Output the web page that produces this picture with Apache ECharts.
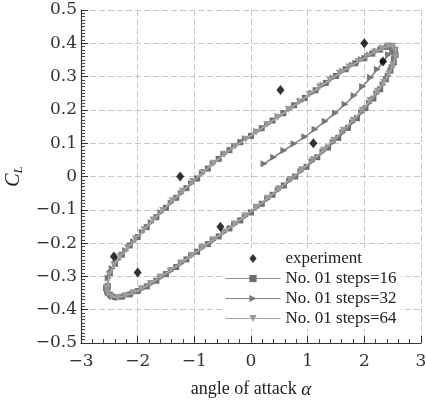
<!DOCTYPE html>
<html>
<head>
<meta charset="utf-8">
<script src="https://cdn.jsdelivr.net/npm/echarts@6/dist/echarts.min.js"></script>
<style>
  html, body { margin: 0; padding: 0; background: #fff; }
  #chart { width: 426px; height: 401px; }
</style>
</head>
<body>
<div id="chart"></div>
<script>
// measured lift coefficient
var experiment = [
  [2.0, 0.40], [2.33, 0.345], [0.52, 0.26], [1.10, 0.10],
  [-1.25, 0.0], [-0.54, -0.151], [-2.42, -0.24], [-2.0, -0.288]
];

// steps=16 : one loop, upper branch then lower branch
var steps16 = [
  [-2.53, -0.33], [-2.49, -0.29], [-2.40, -0.262], [-2.28, -0.235], [-2.14, -0.207],
  [-2.0, -0.182], [-1.84, -0.152], [-1.67, -0.122], [-1.50, -0.094], [-1.32, -0.064],
  [-1.14, -0.035], [-0.95, -0.006], [-0.76, 0.024], [-0.57, 0.053], [-0.38, 0.079],
  [-0.19, 0.103], [0.0, 0.122], [0.19, 0.145], [0.38, 0.168], [0.57, 0.19],
  [0.76, 0.214], [0.95, 0.236], [1.14, 0.259], [1.32, 0.281], [1.50, 0.302],
  [1.67, 0.322], [1.84, 0.340], [2.0, 0.355], [2.14, 0.369], [2.28, 0.381],
  [2.40, 0.389], [2.49, 0.390], [2.54, 0.381],
  [2.55, 0.365], [2.52, 0.342], [2.46, 0.318], [2.38, 0.292], [2.28, 0.262],
  [2.16, 0.234], [2.02, 0.205], [1.87, 0.175], [1.71, 0.146], [1.54, 0.116],
  [1.36, 0.087], [1.17, 0.058], [0.98, 0.029], [0.78, 0.0], [0.58, -0.027],
  [0.38, -0.055], [0.19, -0.082], [0.0, -0.108], [-0.19, -0.132], [-0.38, -0.156],
  [-0.57, -0.18], [-0.76, -0.203], [-0.95, -0.226], [-1.14, -0.249], [-1.32, -0.272],
  [-1.50, -0.293], [-1.67, -0.313], [-1.84, -0.330], [-2.0, -0.344], [-2.14, -0.354],
  [-2.28, -0.361], [-2.40, -0.362], [-2.49, -0.355], [-2.54, -0.343], [-2.53, -0.33]
];

// steps=32 : starts from the first step, then settles onto the loop
var steps32 = [
  [0.23, 0.038], [0.40, 0.058], [0.58, 0.078], [0.76, 0.098], [0.95, 0.119],
  [1.13, 0.142], [1.31, 0.166], [1.49, 0.191], [1.66, 0.217], [1.82, 0.243],
  [1.97, 0.270], [2.11, 0.297], [2.23, 0.322], [2.34, 0.345], [2.43, 0.366],
  [2.50, 0.380], [2.54, 0.372],
  [2.53, 0.352], [2.49, 0.328], [2.42, 0.302], [2.33, 0.276], [2.22, 0.249],
  [2.09, 0.221], [1.95, 0.192], [1.79, 0.162], [1.62, 0.132], [1.45, 0.103],
  [1.27, 0.074], [1.08, 0.045], [0.88, 0.015], [0.68, -0.013], [0.48, -0.041],
  [0.29, -0.068], [0.10, -0.094], [-0.10, -0.120], [-0.29, -0.144], [-0.48, -0.168],
  [-0.67, -0.192], [-0.86, -0.215], [-1.05, -0.238], [-1.23, -0.261], [-1.41, -0.283],
  [-1.59, -0.303], [-1.76, -0.322], [-1.92, -0.338], [-2.07, -0.350], [-2.21, -0.358],
  [-2.34, -0.363], [-2.45, -0.360], [-2.52, -0.350], [-2.55, -0.335],
  [-2.52, -0.305], [-2.45, -0.276], [-2.34, -0.249], [-2.21, -0.222], [-2.07, -0.195],
  [-1.92, -0.167], [-1.76, -0.138], [-1.59, -0.108], [-1.41, -0.079], [-1.23, -0.050],
  [-1.05, -0.021], [-0.86, 0.009], [-0.67, 0.038], [-0.48, 0.066], [-0.29, 0.091],
  [-0.10, 0.113], [0.10, 0.135], [0.29, 0.157], [0.48, 0.180], [0.68, 0.203],
  [0.88, 0.226], [1.08, 0.251], [1.27, 0.274], [1.45, 0.296], [1.62, 0.316],
  [1.79, 0.335], [1.95, 0.351], [2.09, 0.365], [2.22, 0.377], [2.33, 0.386],
  [2.42, 0.391], [2.49, 0.389], [2.53, 0.378], [2.55, 0.362]
];

// steps=64
var steps64 = [
  [-2.54, -0.335], [-2.50, -0.295], [-2.42, -0.266], [-2.31, -0.240], [-2.18, -0.214],
  [-2.04, -0.188], [-1.89, -0.160], [-1.73, -0.131], [-1.56, -0.102], [-1.39, -0.073],
  [-1.21, -0.044], [-1.03, -0.015], [-0.85, 0.012], [-0.66, 0.040], [-0.47, 0.067],
  [-0.28, 0.091], [-0.09, 0.112], [0.09, 0.133], [0.28, 0.156], [0.47, 0.178],
  [0.66, 0.201], [0.85, 0.224], [1.03, 0.247], [1.21, 0.269], [1.39, 0.290],
  [1.56, 0.310], [1.73, 0.329], [1.89, 0.345], [2.04, 0.360], [2.18, 0.373],
  [2.31, 0.384], [2.42, 0.392], [2.50, 0.391], [2.55, 0.378],
  [2.55, 0.358], [2.50, 0.334], [2.43, 0.308], [2.34, 0.282], [2.23, 0.256],
  [2.10, 0.228], [1.96, 0.199], [1.80, 0.169], [1.63, 0.139], [1.46, 0.109],
  [1.28, 0.079], [1.09, 0.050], [0.89, 0.020], [0.69, -0.009], [0.49, -0.037],
  [0.29, -0.065], [0.09, -0.092], [-0.10, -0.118], [-0.29, -0.143], [-0.48, -0.167],
  [-0.67, -0.190], [-0.86, -0.213], [-1.05, -0.237], [-1.24, -0.260], [-1.42, -0.282],
  [-1.60, -0.302], [-1.77, -0.321], [-1.93, -0.337], [-2.08, -0.349], [-2.22, -0.358],
  [-2.35, -0.363], [-2.46, -0.360], [-2.53, -0.350], [-2.54, -0.335]
];

var xTicks = [-3, -2, -1, 0, 1, 2, 3];

var chart = echarts.init(document.getElementById('chart'), null, { renderer: 'canvas' });

function minus(v) {
  return String(v).replace('-', '\u2212');
}

var tickFont = { fontFamily: 'DejaVu Serif', fontSize: 17, color: '#333' };
var gridLine = { show: true, lineStyle: { color: '#c8c8c8', type: [6, 3], width: 1 } };

chart.setOption({
  animation: false,
  backgroundColor: '#fff',
  grid: { left: 81, right: 5, top: 10, bottom: 58, containLabel: false, outerBoundsMode: 'none' },
  legend: {
    data: [
      { name: 'experiment', icon: 'path://M4,0L8,5L4,10L0,5Z' },
      'No. 01 steps=16', 'No. 01 steps=32', 'No. 01 steps=64'
    ],
    orient: 'vertical',
    left: 222,
    top: 248,
    backgroundColor: '#fff',
    padding: [2, 4, 2, 3],
    itemGap: 3,
    itemWidth: 55,
    itemHeight: 9,
    symbolKeepAspect: true,
    lineStyle: { width: 1 },
    textStyle: { fontFamily: 'Liberation Serif', fontSize: 17, color: '#222' }
  },
  xAxis: {
    type: 'value',
    min: xTicks[0],
    max: xTicks[xTicks.length - 1],
    interval: 1,
    name: 'angle of attack {a|α}',
    nameLocation: 'middle',
    nameGap: 37,
    nameTextStyle: {
      fontFamily: 'Liberation Serif', fontSize: 18, color: '#222',
      rich: { a: { fontFamily: 'Liberation Serif', fontStyle: 'italic', fontSize: 19, color: '#222' } }
    },
    axisLine: { onZero: false, lineStyle: { color: '#333', width: 1.2 } },
    axisTick: { inside: true, length: 7, lineStyle: { color: '#333' } },
    minorTick: { show: true, splitNumber: 5, length: 4, lineStyle: { color: '#444' } },
    axisLabel: Object.assign({ margin: 10, formatter: minus }, tickFont),
    splitLine: gridLine
  },
  yAxis: {
    type: 'value',
    min: -0.5,
    max: 0.5,
    interval: 0.1,
    name: '{c|C}{l|L}',
    nameLocation: 'middle',
    nameRotate: 90,
    nameGap: 52,
    nameTextStyle: {
      rich: {
        c: { fontFamily: 'Liberation Serif', fontStyle: 'italic', fontSize: 20, color: '#222', lineHeight: 22 },
        l: { fontFamily: 'Liberation Serif', fontStyle: 'italic', fontSize: 13, color: '#222', verticalAlign: 'bottom', padding: [8, 0, 0, 0] }
      }
    },
    axisLine: { onZero: false, lineStyle: { color: '#333', width: 1.2 } },
    axisTick: { inside: true, length: 7, lineStyle: { color: '#333' } },
    minorTick: { show: true, splitNumber: 10, length: 4, lineStyle: { color: '#444' } },
    axisLabel: Object.assign({
      margin: 4,
      formatter: function (v) { return v === 0 ? '0' : minus(v.toFixed(1)); }
    }, tickFont),
    splitLine: gridLine
  },
  series: [
    {
      name: 'No. 01 steps=16',
      type: 'line',
      data: steps16,
      symbol: 'rect',
      symbolSize: 6,
      lineStyle: { color: '#8c8c8c', width: 1.6 },
      itemStyle: { color: '#6e6e6e' },
      z: 2
    },
    {
      name: 'No. 01 steps=32',
      type: 'line',
      data: steps32,
      symbol: 'triangle',
      symbolRotate: -90,
      symbolSize: 7,
      lineStyle: { color: '#858585', width: 1.6 },
      itemStyle: { color: '#777' },
      z: 3
    },
    {
      name: 'No. 01 steps=64',
      type: 'line',
      data: steps64,
      symbol: 'triangle',
      symbolRotate: 180,
      symbolSize: 7,
      lineStyle: { color: '#a8a8a8', width: 1.6 },
      itemStyle: { color: '#9a9a9a' },
      z: 4
    },
    {
      name: 'experiment',
      type: 'scatter',
      data: experiment,
      symbol: 'diamond',
      symbolSize: [8, 10],
      itemStyle: { color: '#000' },
      z: 10
    }
  ]
});
</script>
</body>
</html>
